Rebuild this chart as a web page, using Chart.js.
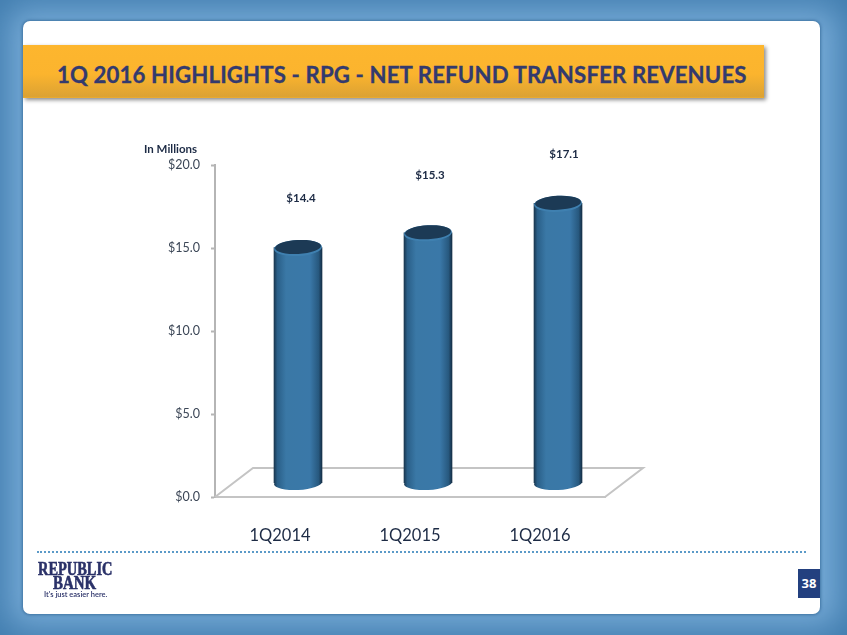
<!DOCTYPE html>
<html>
<head>
<meta charset="utf-8">
<script src="https://cdn.jsdelivr.net/npm/chart.js@4"></script>
<style>
  html, body { margin: 0; padding: 0; }
  body {
    position: relative; width: 847px; height: 635px; overflow: hidden;
    background: #78acd8;
    box-shadow: inset 0 0 34px 8px #3f7bad;
  }
  #panel {
    position: absolute; left: 23px; top: 21px; width: 797px; height: 593px;
    background: #fff; border-radius: 7px;
    box-shadow: 0 0 3px 1px #3f74a3;
  }
  #banner {
    position: absolute; left: 23px; top: 45px; width: 741px; height: 53px;
    background: linear-gradient(#fdb62e 0%, #fbb42e 55%, #dca233 97%, #f0ad2c 100%);
    box-shadow: 2px 2px 4px #8a8a8a;
  }
  #title {
    position: absolute; left: 57px; top: 60px; white-space: nowrap;
    font: 700 22.2px/30px Lato, sans-serif; color: #333a6e; letter-spacing: 0.13px;
    -webkit-text-stroke: 0.3px #333a6e;
  }
  #chart { position: absolute; left: 0; top: 0; }
  #unit {
    position: absolute; left: 144px; top: 142px;
    font: 700 11.5px/14px Lato, sans-serif; color: #1d2b45;
  }
  #dots {
    position: absolute; left: 37px; top: 551px; width: 769px; height: 0;
    border-top: 2px dotted #5b9ac8;
  }
  .logo { position: absolute; color: #2a3168; white-space: nowrap; transform-origin: left center; }
  #logo1 { left: 38px; top: 560.5px; font: 700 18px/17px "Liberation Serif", serif; -webkit-text-stroke: 0.6px #2a3168; transform: scaleX(0.8); }
  #logo2 { left: 53px; top: 574.5px; font: 700 18px/17px "Liberation Serif", serif; -webkit-text-stroke: 0.6px #2a3168; transform: scaleX(0.83); }
  #logo3 { left: 44px; top: 590px; font: 600 7.5px/10px Lato, sans-serif; }
  #page {
    position: absolute; left: 798px; top: 569px; width: 22px; height: 29px;
    background: #23407f; color: #fff; text-align: center;
    font: 700 13px/29px "Open Sans", sans-serif;
  }
</style>
</head>
<body>
<div id="panel"></div>
<div id="banner"></div>
<div id="title">1Q 2016 HIGHLIGHTS - RPG - NET REFUND TRANSFER REVENUES</div>
<canvas id="chart" width="847" height="635"></canvas>
<div id="unit">In Millions</div>
<div id="dots"></div>
<div class="logo" id="logo1">REPUBLIC</div>
<div class="logo" id="logo2">BANK</div>
<div class="logo" id="logo3">It's just easier here.</div>
<div id="page">38</div>

<script>
const categories = ['1Q2014', '1Q2015', '1Q2016'];
const revenues = [14.4, 15.3, 17.1];
const revenueLabels = ['$14.4', '$15.3', '$17.1'];
const axisMax = 20;
const axisStep = 5;

// fake 3D look: bars sit in the middle of the floor
const DEPTH_X = 18, DEPTH_Y = -14;
const BAR_W = 48, CAP_RY = 7, CAP_TILT = -0.05;
const labelShift = [[3, -49.5], [2, -57], [6, -49.5]];

function barFill(c) {
  const sc = c.chart.scales.x;
  const x = sc ? sc.getPixelForValue(c.dataIndex) : NaN;
  if (!Number.isFinite(x)) return '#3a78a8';
  const g = c.chart.ctx.createLinearGradient(x - BAR_W / 2, 0, x + BAR_W / 2, 0);
  g.addColorStop(0, '#1a3850');
  g.addColorStop(0.07, '#2a5f88');
  g.addColorStop(0.25, '#3a78a6');
  g.addColorStop(0.75, '#3a78a8');
  g.addColorStop(0.93, '#27587e');
  g.addColorStop(1, '#152f46');
  return g;
}

const cylinders = {
  id: 'cylinders',
  beforeDatasetsDraw(chart) {
    const { ctx, chartArea: a } = chart;
    // floor
    ctx.save();
    ctx.strokeStyle = '#c4c4c4';
    ctx.lineWidth = 2;
    ctx.beginPath();
    ctx.moveTo(a.left, a.bottom);
    ctx.lineTo(a.left + 38, a.bottom - 29);
    ctx.lineTo(a.right + 38, a.bottom - 29);
    ctx.lineTo(a.right, a.bottom);
    ctx.stroke();
    ctx.restore();

    ctx.save();
    ctx.translate(DEPTH_X, DEPTH_Y);
    chart.getDatasetMeta(0).data.forEach((bar, i) => {
      ctx.fillStyle = bar.options.backgroundColor;
      ctx.beginPath();
      ctx.ellipse(bar.x, bar.base, BAR_W / 2, CAP_RY, CAP_TILT, 0, Math.PI * 2);
      ctx.fill();
    });
    // stays translated so the bars follow, restored below
  },
  afterDatasetsDraw(chart) {
    const { ctx } = chart;
    chart.getDatasetMeta(0).data.forEach((bar, i) => {
      ctx.fillStyle = '#3f80b0';
      ctx.beginPath();
      ctx.ellipse(bar.x, bar.y + 0.5, BAR_W / 2, CAP_RY + 1, CAP_TILT, 0, Math.PI * 2);
      ctx.fill();
      ctx.fillStyle = '#1c3a55';
      ctx.beginPath();
      ctx.ellipse(bar.x, bar.y - 0.5, BAR_W / 2 - 1, CAP_RY, CAP_TILT, 0, Math.PI * 2);
      ctx.fill();
    });
    ctx.restore();

    ctx.save();
    ctx.fillStyle = '#1d2b45';
    ctx.font = '700 11.5px Lato, sans-serif';
    ctx.textAlign = 'center';
    ctx.textBaseline = 'middle';
    chart.getDatasetMeta(0).data.forEach((bar, i) => {
      ctx.fillText(revenueLabels[i], bar.x + DEPTH_X + labelShift[i][0], bar.y + DEPTH_Y + labelShift[i][1]);
    });
    ctx.restore();
  }
};

new Chart(document.getElementById('chart').getContext('2d'), {
  type: 'bar',
  data: {
    labels: categories,
    datasets: [{
      data: revenues,
      yAxisID: 'barY',
      backgroundColor: barFill,
      barThickness: BAR_W,
      borderWidth: 0
    }]
  },
  options: {
    responsive: false,
    animation: false,
    layout: { padding: { top: 165, right: 242, left: 0, bottom: 0 } },
    plugins: { legend: { display: false }, tooltip: { enabled: false } },
    scales: {
      x: {
        afterFit(s) { s.height = 138; },
        border: { color: '#c4c4c4', width: 2 },
        grid: { display: false },
        ticks: { color: '#1d2b45', padding: 21, font: { family: 'Lato', size: 16.5 } }
      },
      y: {
        min: 0,
        max: axisMax,
        afterFit(s) { s.width = 215; },
        border: { color: '#b5b5b5', width: 2 },
        grid: { drawOnChartArea: false, tickLength: 4, color: '#b5b5b5', tickWidth: 2 },
        ticks: {
          stepSize: axisStep,
          color: '#3b4656',
          padding: 11,
          font: { family: 'Lato', size: 12.5 },
          callback: v => '$' + v.toFixed(1)
        }
      },
      // bars stand further back so their scale is a bit shorter than the front axis
      barY: { display: false, min: 0, max: 20.3 }
    }
  },
  plugins: [cylinders]
});
</script>
</body>
</html>
